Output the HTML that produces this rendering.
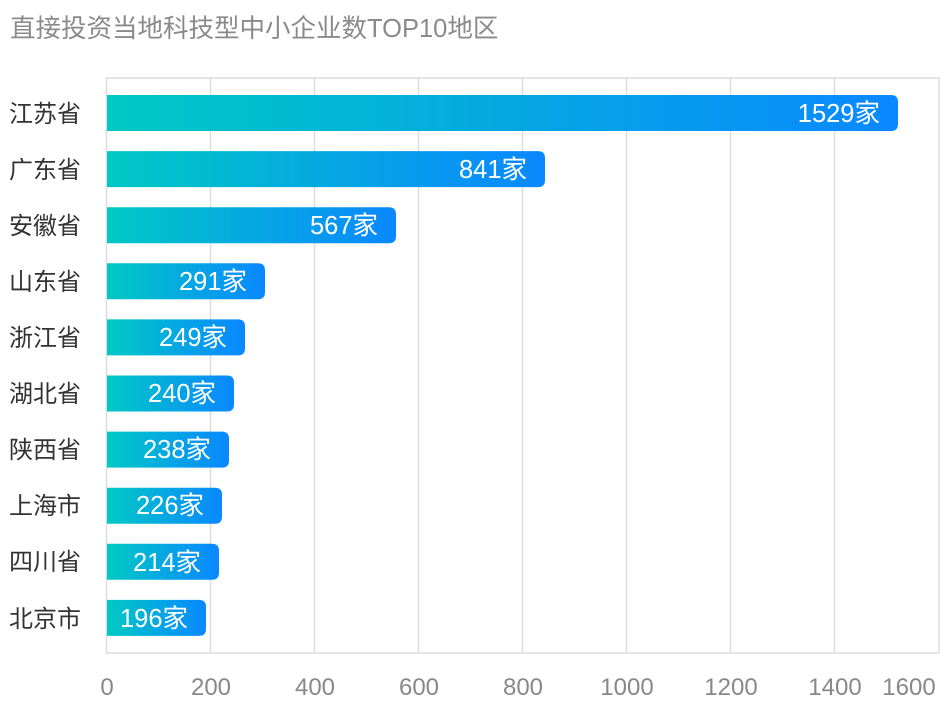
<!DOCTYPE html>
<html><head><meta charset="utf-8"><style>
body{margin:0;background:#fff;}
svg text{font-family:"Liberation Sans","Noto Sans CJK SC",sans-serif;}
</style></head><body>
<svg width="950" height="723" viewBox="0 0 950 723" xmlns="http://www.w3.org/2000/svg">
<defs><linearGradient id="g" x1="0" x2="1" y1="0" y2="0"><stop offset="0" stop-color="#00c9c4"/><stop offset="1" stop-color="#0a88ff"/></linearGradient></defs>
<rect width="950" height="723" fill="#fff"/>
<text x="10" y="37" font-size="25.5" fill="#8a8a8a">直接投资当地科技型中小企业数TOP10地区</text>
<g stroke="#dcdcdc" stroke-width="1.5" fill="none">
<rect x="106.5" y="78" width="832.5" height="575"/>
<line x1="210.5" y1="78" x2="210.5" y2="653"/><line x1="314.5" y1="78" x2="314.5" y2="653"/>
<line x1="418.5" y1="78" x2="418.5" y2="653"/><line x1="522.5" y1="78" x2="522.5" y2="653"/>
<line x1="626.5" y1="78" x2="626.5" y2="653"/><line x1="730.5" y1="78" x2="730.5" y2="653"/>
<line x1="834.5" y1="78" x2="834.5" y2="653"/>
</g>
<g font-size="24" fill="#888" text-anchor="middle">
<text x="107" y="695">0</text><text x="211" y="695">200</text><text x="315" y="695">400</text><text x="419" y="695">600</text><text x="523" y="695">800</text><text x="627" y="695">1000</text><text x="731" y="695">1200</text><text x="835" y="695">1400</text><text x="909" y="695">1600</text>
</g>
<g fill="url(#g)">
<path d="M107 95H891Q898 95 898 102V124Q898 131 891 131H107Z"/>
<path d="M107 151.1H538Q545 151.1 545 158.1V180.1Q545 187.1 538 187.1H107Z"/>
<path d="M107 207.2H389Q396 207.2 396 214.2V236.2Q396 243.2 389 243.2H107Z"/>
<path d="M107 263.3H258Q265 263.3 265 270.3V292.3Q265 299.3 258 299.3H107Z"/>
<path d="M107 319.4H238Q245 319.4 245 326.4V348.4Q245 355.4 238 355.4H107Z"/>
<path d="M107 375.5H227Q234 375.5 234 382.5V404.5Q234 411.5 227 411.5H107Z"/>
<path d="M107 431.6H222Q229 431.6 229 438.6V460.6Q229 467.6 222 467.6H107Z"/>
<path d="M107 487.7H215Q222 487.7 222 494.7V516.7Q222 523.7 215 523.7H107Z"/>
<path d="M107 543.8H212Q219 543.8 219 550.8V572.8Q219 579.8 212 579.8H107Z"/>
<path d="M107 599.9H199Q206 599.9 206 606.9V628.9Q206 635.9 199 635.9H107Z"/>
</g>
<g font-size="25.5" fill="#fff" text-anchor="end">
<text x="880" y="122">1529家</text>
<text x="527" y="178">841家</text>
<text x="378" y="234">567家</text>
<text x="247" y="290">291家</text>
<text x="227" y="346">249家</text>
<text x="216" y="402">240家</text>
<text x="211" y="458">238家</text>
<text x="204" y="514">226家</text>
<text x="201" y="571">214家</text>
<text x="188" y="627">196家</text>
</g>
<g font-size="24" fill="#333">
<text x="9" y="122">江苏省</text>
<text x="9" y="178">广东省</text>
<text x="9" y="234">安徽省</text>
<text x="9" y="290">山东省</text>
<text x="9" y="346">浙江省</text>
<text x="9" y="402">湖北省</text>
<text x="9" y="458">陕西省</text>
<text x="9" y="514">上海市</text>
<text x="9" y="570">四川省</text>
<text x="9" y="627">北京市</text>
</g>
</svg>
</body></html>
